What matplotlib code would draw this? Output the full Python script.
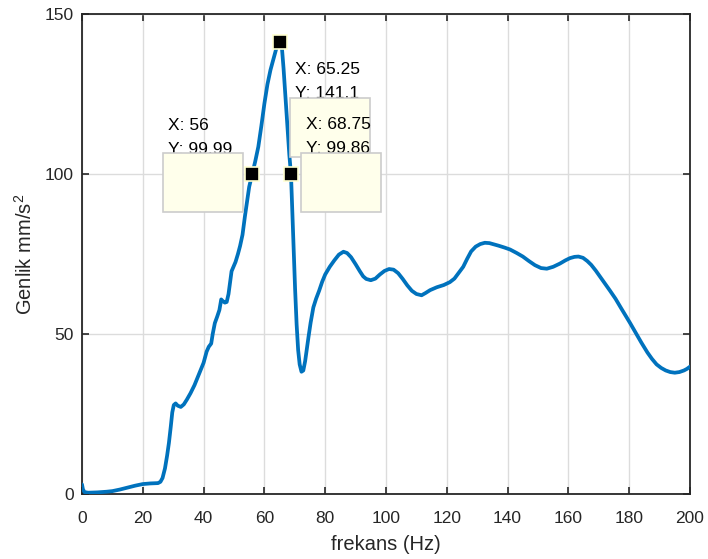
import numpy as np
import matplotlib
matplotlib.use('Agg')
import matplotlib.pyplot as plt
from matplotlib.patches import Rectangle
from matplotlib.transforms import ScaledTranslation

plt.rcParams['font.family'] = ['Liberation Sans', 'DejaVu Sans']
plt.rcParams['mathtext.default'] = 'regular'

# frekans (Hz) ve genlik (mm/s^2)
freq = [0, 0.3, 0.8, 2, 5, 8, 10, 12.5, 15, 17.5, 20, 22.5, 25, 25.8, 26.5, 27.3,
        28, 28.6, 29.2, 29.7, 30.2, 30.8, 31.5, 32.5, 33.5, 34.5, 35.7, 37,
        38.5, 40, 41, 41.7, 42.5, 43, 43.7, 44.5, 45.2, 45.8, 46.3, 47, 47.6,
        48.2, 48.7, 49.2, 50.5, 51.3, 52, 52.8, 53.6, 54.3, 55, 56, 57, 58, 59,
        60, 61, 62, 63, 64, 64.7, 65.25, 65.8, 66.3, 66.8, 67.5, 68.2, 68.75,
        69.2, 69.6, 70.1, 70.6, 71.1, 71.6, 72.2, 72.8, 73.4, 73.9, 74.5, 75.2,
        76.1, 77, 78, 79, 80, 81.5, 83, 84.5, 86, 87.2, 88.5, 90, 91.4, 92.5,
        93.5, 95, 96.5, 98, 99.5, 101, 102.5, 104, 105.5, 107, 108.5, 110,
        111.7, 113, 114.5, 116.7, 119, 121, 122.5, 124, 125.4, 126.7, 128,
        129.5, 131, 132.5, 134, 135.5, 137, 139, 140.8, 143, 145, 147, 149, 151,
        152.9, 155, 157.2, 159, 160.5, 162, 163.3, 164.8, 166.2, 167.5, 169,
        170.5, 172, 173.7, 175.5, 177.5, 180.3, 182, 184, 186, 187.5, 189,
        190.5, 192, 193.5, 195, 196.5, 198, 199, 200]
genlik = [3, 1.5, 0.6, 0.4, 0.5, 0.7, 0.9, 1.4, 2, 2.6, 3.1, 3.3, 3.4, 3.8, 5, 8,
          12, 16, 21, 25.5, 27.8, 28.3, 27.6, 27.2, 28, 29.5, 31.5, 34,
          37.5, 41, 44.5, 46, 47, 50, 53.4, 55.5, 57.5, 60.8, 60.3, 59.8, 60,
          62.5, 66, 69.6, 72.5, 75, 77.5, 81, 86.8, 91.5, 96, 99.99, 104, 108.5, 115,
          122, 128, 132.5, 136, 139.5, 141, 141.1, 139, 133, 126, 116, 106, 99.86,
          88, 77, 64, 53, 45, 40.5, 38.2, 38.6, 41.5, 45, 49, 53.5,
          58.3, 61, 63.5, 66.3, 68.6, 71, 73, 74.8, 75.7, 75.3, 74, 71.8, 69.6, 68,
          67.2, 66.8, 67.3, 68.6, 69.7, 70.3, 70.1, 69, 67.2, 65.2, 63.5, 62.5,
          62.1, 62.8, 63.7, 64.6, 65.3, 66.2, 67.3, 69.2, 71, 73.5, 75.8,
          77.3, 78.1, 78.5, 78.4, 78, 77.6, 77, 76.4, 75.3, 74.2, 72.8, 71.5, 70.6,
          70.4, 71, 72, 73, 73.7, 74.1, 74.2, 73.8, 72.8, 71.6, 69.8,
          67.8, 65.8, 63.5, 61, 57.8, 53.4, 50.6, 47.3, 44.2, 42.2, 40.5,
          39.4, 38.6, 38.1, 37.9, 38.1, 38.6, 39.1, 39.8]

# veri imleri (data tips)
tip_x = [56, 65.25, 68.75]
tip_y = [99.99, 141.1, 99.86]
tip_lbl_x = ['56', '65.25', '68.75']
tip_lbl_y = ['99.99', '141.1', '99.86']

fig = plt.figure(figsize=(7.08, 5.59), dpi=100)
ax = fig.add_axes([0.1158, 0.1163, 0.8588, 0.8587])

ax.plot(freq, genlik, color='#0072BD', lw=2.7, zorder=3,
        solid_joinstyle='round', solid_capstyle='round')

ax.set_xlim(0, 200)
ax.set_ylim(0, 150)
ax.set_xticks(np.arange(0, 201, 20))
ax.set_yticks([0, 50, 100, 150])
ax.grid(True, color='#DCDCDC', lw=1.0)
ax.set_axisbelow(True)
ax.tick_params(direction='in', length=5, width=1.2, top=True, right=True,
               labelsize=12.5, colors='#262626')
ax.tick_params(axis='x', pad=12.5)
ax.tick_params(axis='y', pad=6)
for s in ax.spines.values():
    s.set_color('#262626')
    s.set_linewidth(1.3)

ax.set_xlabel('frekans (Hz)', fontsize=14.5, color='#262626', labelpad=6)
ax.set_ylabel('Genlik mm/s$^2$', fontsize=14.5, color='#262626', labelpad=6)

# kutu ve yazi ofsetleri (piksel, 100 dpi)
box_off = [(-89, -38), (10, -115), (10, -38)]
txt_off = [(-84, 49, 25), (15, -27, -51), (15, 50, 26)]
for i in range(3):
    base = ScaledTranslation(tip_x[i], tip_y[i], ax.transData)
    tx, ty1, ty2 = txt_off[i]
    ax.text(tx / 100, ty1 / 100, 'X: ' + tip_lbl_x[i], transform=fig.dpi_scale_trans + base,
            fontsize=12.5, va='center', ha='left', zorder=4 + 2 * i, clip_on=False)
    ax.text(tx / 100, ty2 / 100, 'Y: ' + tip_lbl_y[i], transform=fig.dpi_scale_trans + base,
            fontsize=12.5, va='center', ha='left', zorder=4 + 2 * i, clip_on=False)
    bx, by = box_off[i]
    ax.add_patch(Rectangle((bx / 100, by / 100), 0.8, 0.59,
                           transform=fig.dpi_scale_trans + base,
                           facecolor='#FFFFEB', edgecolor='#CCCCCC', lw=1.2,
                           zorder=5 + 2 * i, clip_on=False))

ax.plot(tip_x, tip_y, 's', ms=10, mfc='black', mec='#FFFFD0', mew=1.2, zorder=12)

fig.savefig('out.png', dpi=100)
